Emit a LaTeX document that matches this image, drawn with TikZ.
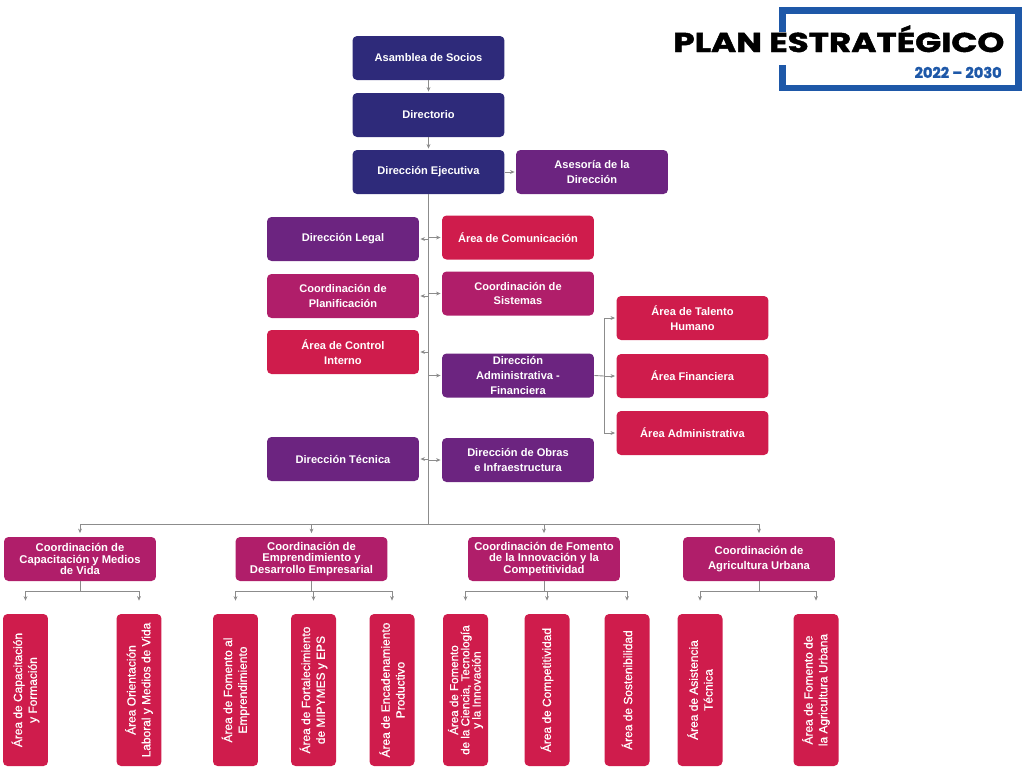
\documentclass[tikz,border=0pt]{standalone}
\usepackage{fontspec}
\setmainfont{Liberation Sans}
\newfontfamily\logofont[BoldFeatures={FakeBold=1.5}]{Poppins}
\newfontfamily\areafont[FakeBold=0.7]{Liberation Sans}
\usepackage{graphicx}
\usetikzlibrary{arrows.meta,calc}
\definecolor{orgnavy}{RGB}{46,42,122}
\definecolor{orgpurple}{RGB}{108,36,128}
\definecolor{orgmagenta}{RGB}{176,30,106}
\definecolor{orgred}{RGB}{207,28,76}
\definecolor{logoblue}{RGB}{30,88,168}
\definecolor{linkgray}{RGB}{140,140,140}

\begin{document}
\begin{tikzpicture}[x=0.02cm, y=-0.02cm, >={Stealth[length=2.6pt,width=2.2pt]},
    box/.style={rounded corners=0.09cm, minimum width=3.04cm, minimum height=0.88cm,
        text=white, align=center, inner sep=1pt, font=\fontsize{6.3}{8.5}\selectfont\bfseries},
    coordbox/.style={box, fill=orgmagenta, font=\fontsize{6.4}{6.7}\selectfont\bfseries},
    areabox/.style={rounded corners=0.09cm, minimum width=3.04cm, minimum height=0.9cm,
        fill=orgred, text=white, align=center, inner sep=1pt, rotate=90,
        font=\areafont\fontsize{6.8}{8.4}\selectfont},
    link/.style={draw=linkgray, line width=0.5pt},
    arr/.style={link, ->, shorten >=0.6pt}]
    \useasboundingbox (0,0) rectangle (1024,772);

    % Logo
    \draw[logoblue, line width=0.13cm] (782.5,32) -- (782.5,10.5) -- (1018.5,10.5)
        -- (1018.5,88) -- (782.5,88) -- (782.5,65);
    \node[anchor=base west, inner sep=0pt] (logo) at (673,52)
        {\resizebox{6.62cm}{\height}{\logofont\bfseries\fontsize{15.5}{16}\selectfont PLAN ESTRATÉGICO}};
    \node[anchor=base east, inner sep=0pt, text=logoblue] (years) at (1002,78)
        {\resizebox{1.74cm}{\height}{\logofont\bfseries\fontsize{8.5}{9}\selectfont 2022 – 2030}};

    % Top level
    \node[box, fill=orgnavy] (asamblea) at (428.5,58) {Asamblea de Socios};
    \node[box, fill=orgnavy] (directorio) at (428.5,115) {Directorio};
    \node[box, fill=orgnavy] (ejec) at (428.5,172) {Dirección Ejecutiva};
    \node[box, fill=orgpurple] (asesoria) at (592,172) {Asesoría de la\\Dirección};

    % Staff units
    \node[box, fill=orgpurple] (legal) at (343,239) {Dirección Legal};
    \node[box, fill=orgred] (comunic) at (518,237.5) {Área de Comunicación};
    \node[box, fill=orgmagenta] (planif) at (343,296) {Coordinación de\\Planificación};
    \node[box, fill=orgmagenta] (sistemas) at (518,293.5) {Coordinación de\\Sistemas};
    \node[box, fill=orgred] (control) at (343,352) {Área de Control\\Interno};
    \node[box, fill=orgpurple] (admfin) at (518,375.5) {Dirección\\Administrativa -\\Financiera};
    \node[box, fill=orgpurple] (tecnica) at (343,459) {Dirección Técnica};
    \node[box, fill=orgpurple] (obras) at (518,460) {Dirección de Obras\\e Infraestructura};

    \node[box, fill=orgred] (talento) at (692.5,318) {Área de Talento\\Humano};
    \node[box, fill=orgred] (financ) at (692.5,376) {Área Financiera};
    \node[box, fill=orgred] (admva) at (692.5,433) {Área Administrativa};

    % Coordinations
    \node[coordbox] (capac) at (80,559) {Coordinación de\\Capacitación y Medios\\de Vida};
    \node[coordbox] (empren) at (311.5,559) {Coordinación de\\Emprendimiento y\\Desarrollo Empresarial};
    \node[coordbox] (innov) at (544,559) {Coordinación de Fomento\\de la Innovación y la\\Competitividad};
    \node[coordbox, font=\fontsize{6.4}{8.5}\selectfont\bfseries] (agri) at (759,559)
        {Coordinación de\\Agricultura Urbana};

    % Areas
    \node[areabox] (b1) at (25.5,690) {Área de Capacitación\\y Formación};
    \node[areabox] (b2) at (139,690) {Área Orientación\\Laboral y Medios de Vida};
    \node[areabox] (b3) at (235.5,690) {Área de Fomento al\\Emprendimiento};
    \node[areabox] (b4) at (313.5,690) {Área de Fortalecimiento\\de MIPYMES y EPS};
    \node[areabox] (b5) at (392,690) {Área de Encadenamiento\\Productivo};
    \node[areabox, font=\areafont\fontsize{6.6}{6.4}\selectfont] (b6) at (465.5,690)
        {Área de Fomento\\de la Ciencia, Tecnología\\y la Innovación};
    \node[areabox] (b7) at (547,690) {Área de Competitividad};
    \node[areabox] (b8) at (627,690) {Área de Sostenibilidad};
    \node[areabox] (b9) at (700,690) {Área de Asistencia\\Técnica};
    \node[areabox] (b10) at (816,690) {Área de Fomento de\\la Agricultura Urbana};

    % Top connectors
    \draw[arr] (asamblea) -- (directorio);
    \draw[arr] (directorio) -- (ejec);
    \draw[arr] (ejec) -- (asesoria);

    % Spine and staff arrows
    \coordinate (bus) at (0,524);
    \draw[link] (ejec.south) -- (ejec.south |- bus);
    \foreach \n in {legal,planif,control,tecnica}
        \draw[arr] (\n.east -| ejec.south) -- (\n.east);
    \foreach \n in {comunic,sistemas,admfin,obras}
        \draw[arr] (\n.west -| ejec.south) -- (\n.west);

    % Administrative branch
    \coordinate (admx) at (604,376);
    \draw[link] (admfin.east) -- (admx);
    \draw[link] (talento.west -| admx) -- (admva.west -| admx);
    \foreach \n in {talento,financ,admva}
        \draw[arr] (\n.west -| admx) -- (\n.west);

    % Coordination bus
    \draw[link] (capac.north |- bus) -- (agri.north |- bus);
    \foreach \n in {capac,empren,innov,agri}
        \draw[arr, shorten >=2pt] (\n.north |- bus) -- (\n.north);

    % Area buses
    \coordinate (subbus) at (0,591);
    \foreach \c/\first/\last/\kids in {capac/b1/b2/{b1,b2}, empren/b3/b5/{b3,b4,b5},
            innov/b6/b8/{b6,b7,b8}, agri/b9/b10/{b9,b10}} {
        \draw[link] (\c.south) -- (\c.south |- subbus);
        \draw[link] (\first.east |- subbus) -- (\last.east |- subbus);
        \foreach \k in \kids
            \draw[arr, shorten >=0.26cm] (\k.east |- subbus) -- (\k.east);
    }
\end{tikzpicture}
\end{document}
